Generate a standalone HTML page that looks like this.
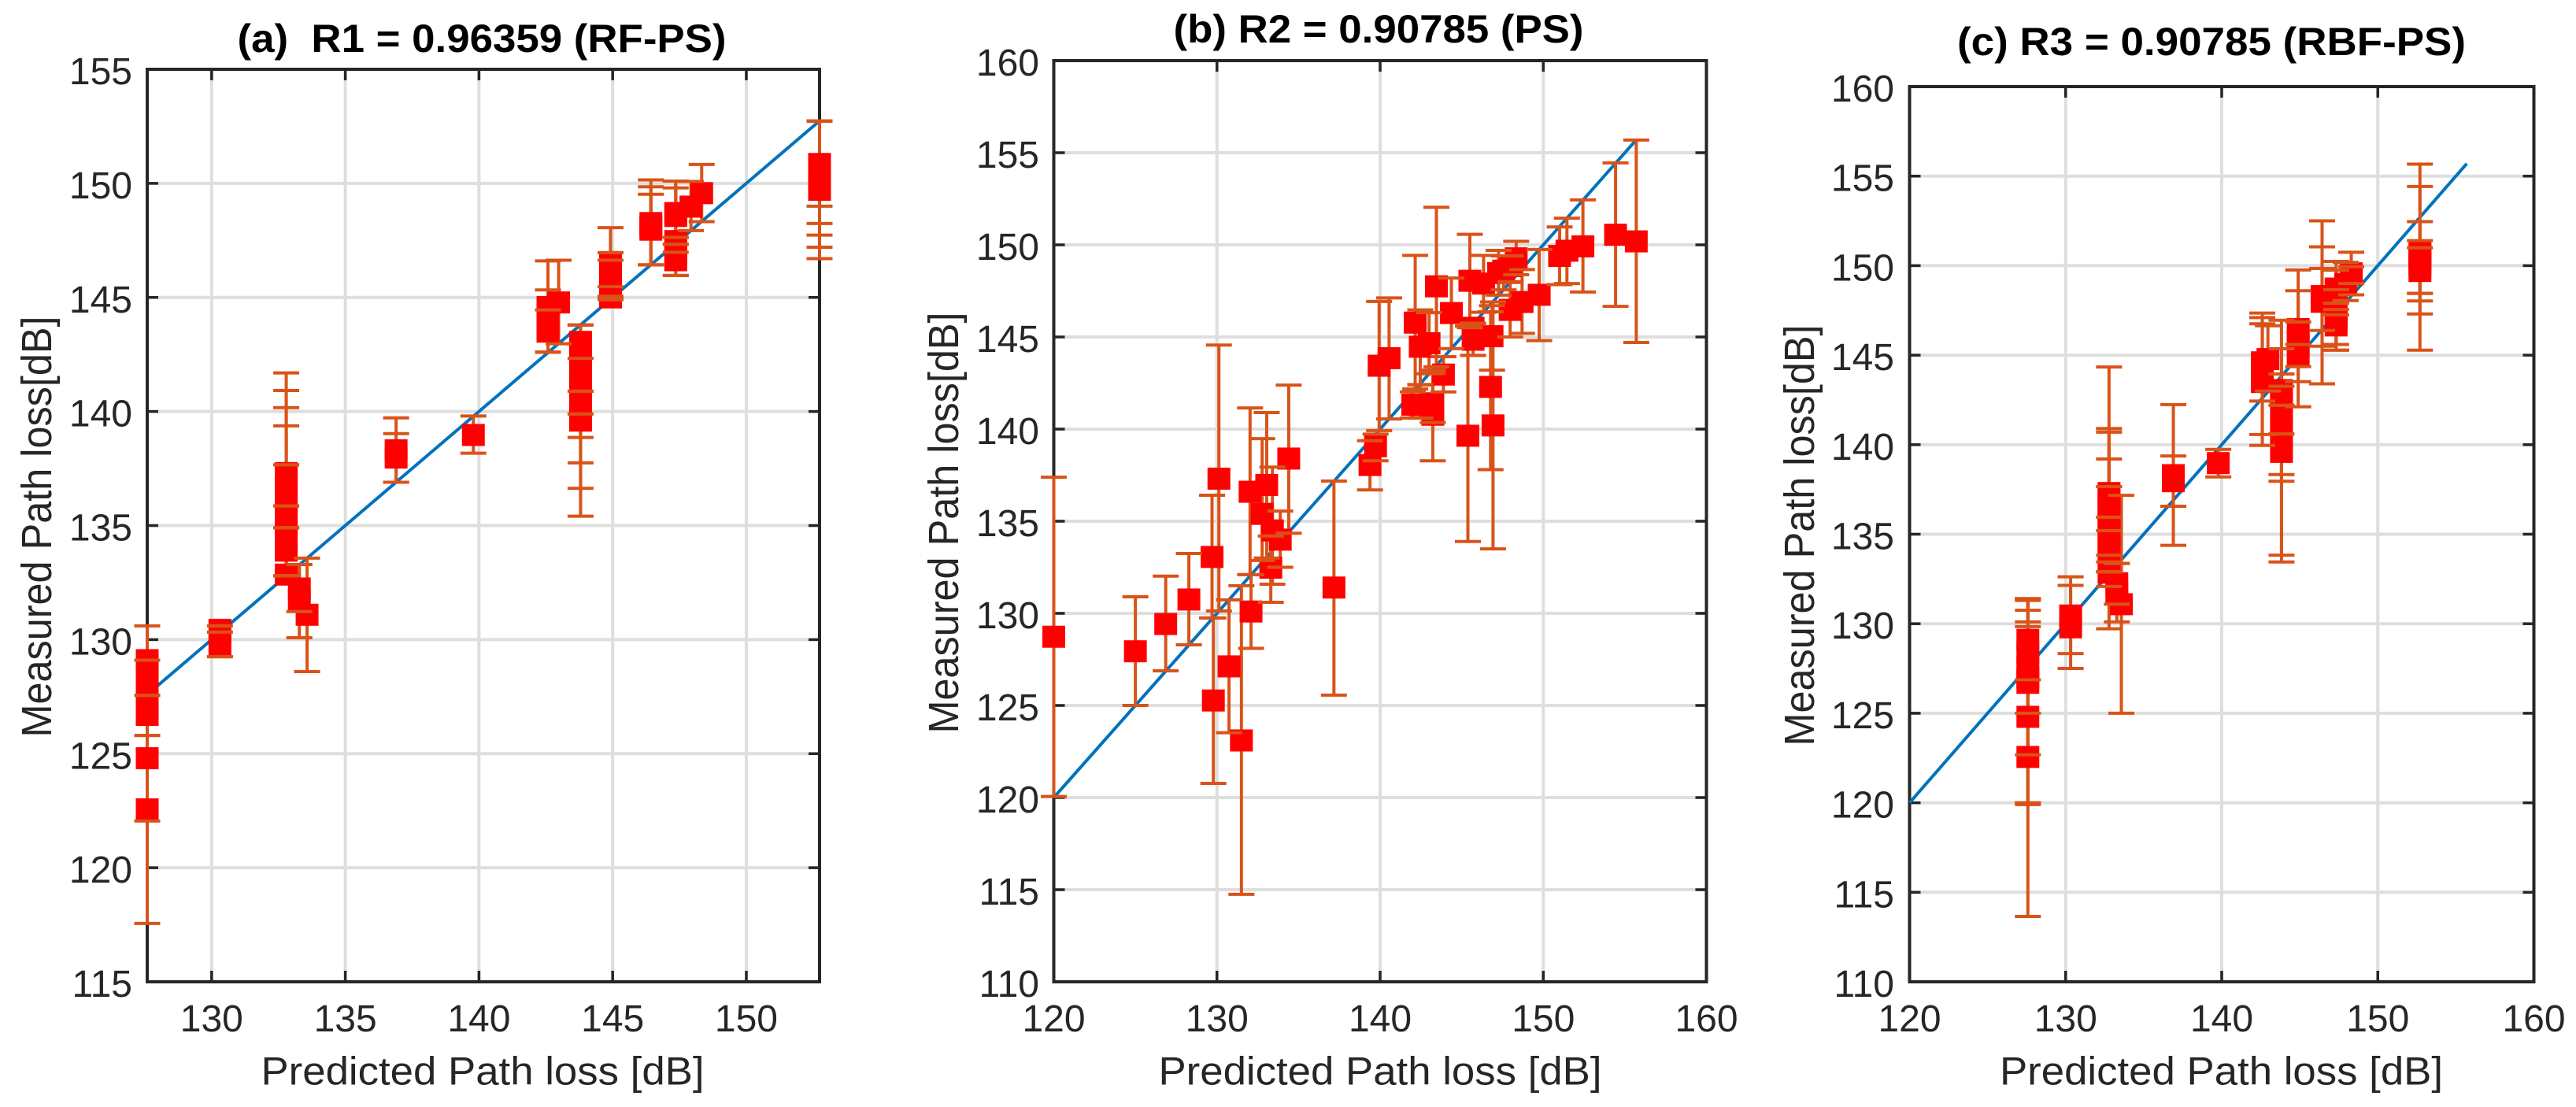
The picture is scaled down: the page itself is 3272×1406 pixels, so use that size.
<!DOCTYPE html>
<html lang="en">
<head>
<meta charset="utf-8">
<title>Predicted vs measured path loss</title>
<style>
html,body{margin:0;padding:0;background:#fff;}
svg{display:block;font-family:"Liberation Sans",Arial,sans-serif;}
</style>
</head>
<body>
<svg id="figure" xmlns="http://www.w3.org/2000/svg" width="3272" height="1406" viewBox="0 0 3272 1406"></svg>
<script>
/* ---------- Panel (a) RF-PS ---------- */
const aPredicted = [127.59,127.59,127.59,127.59,127.59,127.59,130.31,130.31,132.79,132.79,132.79,132.79,132.79,132.79,132.79,132.79,132.79,133.28,133.28,133.57,136.9,136.9,139.79,142.58,142.58,142.58,142.98,143.8,143.8,143.8,143.8,143.8,143.8,144.92,144.92,144.92,144.92,146.43,146.43,146.43,147.36,147.36,147.36,147.36,147.36,147.93,148.33,152.74,152.74,152.74,152.74,152.74];
const aMeasured  = [122.56,124.8,126.7,127.6,128.4,129.1,129.75,130.43,132.85,133.9,134.4,135,135.6,136.1,136.7,137,137.3,131.75,132.24,131.09,137.98,138.3,138.97,143.5,144,144.58,144.78,139.6,140.3,141,141.7,142.4,143.05,145,145.5,146,146.55,147.97,148.1,148.26,146.63,147,147.47,148.57,148.7,148.98,149.57,149.72,150,150.3,150.6,150.85];
const aLower     = [117.56,122.05,125.8,125.8,127.56,127.56,129.25,129.25,132.8,132.8,132.8,132.8,134.9,135.86,134.9,132.8,132.8,130.08,131.23,128.6,136.9,136.9,138.17,142.6,142.6,142.6,142.97,135.41,136.63,137.75,138.86,139.89,140.89,144.9,144.9,145,145.05,146.43,146.43,146.43,145.96,145.96,146.98,147.33,147.63,147.93,148.32,146.7,147.2,147.73,148.24,149];
const aUpper     = [127.56,127.56,127.56,129.1,130.6,130.6,130.33,130.6,134.9,134.9,135.86,137.66,137.66,139.37,140.17,140.92,141.69,133.29,133.29,133.57,139.03,139.72,139.8,145.33,144.45,146.6,146.63,139.89,140.89,142.33,143.79,143.79,143.79,145.47,146.63,146.96,148.06,149.52,149.85,150.15,147.33,147.63,149.8,150.1,150.1,150.08,150.83,152.73,152.73,152.73,152.73,152.73];
const aXTicks = [130,135,140,145,150];
const aYTicks = [115,120,125,130,135,140,145,150,155];
const aDiagonal = [127.59,152.74];

/* ---------- Panel (b) PS ---------- */
const bPredicted = [120,125,126.86,128.28,129.78,129.7,130.12,130.74,131.5,132.09,132.03,132.77,133.05,133.3,133.4,133.88,134.4,137.17,139.38,139.72,139.94,140.55,142,142.46,143.23,143.23,142.15,142.46,143,143.45,143.88,144.37,145.38,145.5,145.7,145.7,146.34,146.86,146.77,146.92,147.26,147.57,147.97,148,148.34,148.7,149.75,151,151.45,152.43,154.43,155.7];
const bMeasured  = [128.73,127.94,129.42,130.75,125.27,133.06,137.31,127.12,123.1,130.1,136.6,135.4,136.97,132.48,134.5,134,138.4,131.4,138.05,139.07,143.44,143.85,141.32,141.3,140.78,141.4,145.78,144.47,144.66,147.75,142.96,146.3,139.64,148.05,144.85,145.5,147.9,145.04,142.29,140.2,148.47,148.6,146.47,148.85,149.27,146.9,147.29,149.4,149.68,149.92,150.55,150.19];
const bLower     = [120.06,125,126.88,128.29,120.77,129.75,130.13,123.52,114.75,128.1,132.1,132.87,133,130.6,131.58,132.5,134.35,125.56,136.7,138.28,139.92,140.55,140.6,140.6,138.28,140.36,142.18,142.42,143,143.38,142.02,144.37,133.9,145.5,144,144,146.34,143.2,137.8,133.5,147.27,147.56,145,148,148.38,145.2,144.8,147.84,147.9,147.44,146.66,144.7];
const bUpper     = [137.39,130.9,132.02,133.25,129.75,136.41,144.56,130.73,131.5,132.1,141.15,139.48,140.9,134.2,137.94,135.55,142.39,137.18,139.37,139.73,146.93,147.12,142.02,142.4,143.03,143.2,149.43,146.47,146.32,152.04,143.93,148.2,145.6,150.57,145.75,145.7,149.43,146.7,146.37,146.9,149.7,149.4,147.96,149.4,150.19,148.66,149.75,150.97,151.45,152.44,154.45,155.69];
const bXTicks = [120,130,140,150,160];
const bYTicks = [110,115,120,125,130,135,140,145,150,155,160];
const bDiagonal = [120,155.7];

/* ---------- Panel (c) RBF-PS ---------- */
const cPredicted = [127.58,127.58,127.58,127.58,127.58,127.58,127.58,130.32,130.32,132.78,132.78,132.78,132.78,132.78,132.78,132.78,132.78,132.78,133.28,133.28,133.57,136.9,136.9,139.78,142.6,142.6,142.6,142.96,143.83,143.83,143.83,143.83,143.83,143.83,144.9,144.9,144.9,144.9,146.43,146.43,146.43,147.33,147.33,147.33,147.33,147.33,147.94,148.3,148.3,152.7,152.7,152.7,152.7,152.7];
const cMeasured  = [122.56,124.8,126.7,127,127.6,128.4,129.1,129.8,130.46,132.85,133.9,134.4,135,135.6,136.1,136.7,137,137.3,131.7,132.26,131.09,137.96,138.3,138.97,143.5,144,144.6,144.78,139.6,140.3,141,141.7,142.4,143.05,145.05,145.5,146,146.46,147.98,148.1,148.3,146.66,147,147.5,148.6,148.72,148.98,149.57,149.5,149.7,150,150.3,150.6,150.8];
const cLower     = [113.65,120,122.68,119.9,120,125,126.87,127.5,128.33,129.72,132.08,132.9,132.9,133.45,133.83,132.9,135.2,135.95,130.1,131.09,125,134.38,136.56,138.2,139.96,140.57,142.44,143,133.45,133.83,137.96,138.33,140.6,142.2,144.36,143.52,142.12,145.6,143.4,146.38,145.5,145.28,145.6,145.28,147.25,148.66,148.05,148.37,149,145.28,147.3,148.03,148.45,148.45];
const cUpper     = [131.4,130.1,130.75,129.84,131.4,131.4,131.3,132.14,132.62,135.2,135.95,137.66,137.66,139.2,140.7,140.9,140.9,144.34,133.37,133.37,137.17,139.37,142.24,139.74,147.1,146.75,147.35,146.64,140.6,142.2,143.26,143.95,145.36,146.95,145.6,146.85,148.6,149.76,151.05,149.84,152.5,147.25,147.55,147.9,149.75,150.24,150.18,150.75,149.94,155.67,154.42,152.46,151.4,151];
const cXTicks = [120,130,140,150,160];
const cYTicks = [110,115,120,125,130,135,140,145,150,155,160];
const cDiagonal = [120,155.7];

const NS = 'http://www.w3.org/2000/svg';
const svg = document.getElementById('figure');
const INK = '#262626', GRID = '#dedede', ORANGE = '#D95319', BLUE = '#0072BD', RED = '#FF0000';

function line(parent, x1, y1, x2, y2, stroke, w, name) {
  const el = document.createElementNS(NS, 'line');
  el.setAttribute('x1', x1); el.setAttribute('y1', y1);
  el.setAttribute('x2', x2); el.setAttribute('y2', y2);
  el.setAttribute('stroke', stroke); el.setAttribute('stroke-width', w);
  
  
  parent.appendChild(el);
  return el;
}
function group(parent, name) {
  const el = document.createElementNS(NS, 'g');
  
  
  parent.appendChild(el);
  return el;
}
function tickText(parent, str, x, y, anchor, name) {
  const el = document.createElementNS(NS, 'text');
  el.setAttribute('x', x);
  el.setAttribute('y', y);
  el.setAttribute('text-anchor', anchor);
  el.setAttribute('font-size', 48);
  el.setAttribute('fill', INK);
  
  
  el.textContent = str;
  parent.appendChild(el);
}
function fitText(parent, str, x, y, len, size, weight, fill, name, rotate) {
  const el = document.createElementNS(NS, 'text');
  if (rotate) {
    el.setAttribute('transform', 'translate(' + x + ',' + y + ') rotate(-90) scale(1,1.07)');
  } else {
    el.setAttribute('x', x); el.setAttribute('y', y);
  }
  el.setAttribute('text-anchor', 'middle');
  el.setAttribute('font-size', size);
  el.setAttribute('font-weight', weight);
  el.setAttribute('fill', fill);
  el.setAttribute('textLength', len);
  el.setAttribute('lengthAdjust', 'spacingAndGlyphs');
  
  
  el.textContent = str;
  parent.appendChild(el);
}

function drawPanel(p) {
  const g = group(svg, 'panel-' + p.id);
  const sx = v => p.left + (v - p.xMin) / (p.xMax - p.xMin) * (p.right - p.left);
  const sy = v => p.bottom - (v - p.yMin) / (p.yMax - p.yMin) * (p.bottom - p.top);

  /* gridlines */
  const gridG = group(g, 'grid-' + p.id);
  p.xTicks.forEach(v => {
    if (sx(v) > p.left + 1 && sx(v) < p.right - 1) line(gridG, sx(v), p.top, sx(v), p.bottom, GRID, 4, 'x-gridline');
  });
  p.yTicks.forEach(v => {
    if (sy(v) > p.top + 1 && sy(v) < p.bottom - 1) line(gridG, p.left, sy(v), p.right, sy(v), GRID, 4, 'y-gridline');
  });

  /* ticks and tick labels */
  const axG = group(g, 'axes-' + p.id);
  p.xTicks.forEach(v => {
    const x = sx(v);
    if (x > p.left + 1 && x < p.right - 1) {
      line(axG, x, p.bottom, x, p.bottom - 14, INK, 3.5, 'x-tick');
      line(axG, x, p.top, x, p.top + 14, INK, 3.5, 'x-tick-top');
    }
    tickText(axG, String(v), x, 1310, 'middle', 'x-tick-label');
  });
  p.yTicks.forEach(v => {
    const y = sy(v);
    if (y > p.top + 1 && y < p.bottom - 1) {
      line(axG, p.left, y, p.left + 14, y, INK, 3.5, 'y-tick');
      line(axG, p.right, y, p.right - 14, y, INK, 3.5, 'y-tick-right');
    }
    tickText(axG, String(v), p.labelRight, y + 19, 'end', 'y-tick-label');
  });

  /* box */
  const box = document.createElementNS(NS, 'rect');
  box.setAttribute('x', p.left); box.setAttribute('y', p.top);
  box.setAttribute('width', p.right - p.left); box.setAttribute('height', p.bottom - p.top);
  box.setAttribute('fill', 'none'); box.setAttribute('stroke', INK); box.setAttribute('stroke-width', 4);
  
  
  axG.appendChild(box);

  /* diagonal reference line */
  line(g, sx(p.diagonal[0]), sy(p.diagonal[0]), sx(p.diagonal[1]), sy(p.diagonal[1]), BLUE, 4, 'fit-line');

  /* error bars and markers */
  const stems = group(g, 'error-stems-' + p.id);
  const marks = group(g, 'markers-' + p.id);
  const caps = group(g, 'error-caps-' + p.id);
  p.predicted.forEach((xv, i) => {
    const x = sx(xv), y = sy(p.measured[i]), lo = sy(p.lower[i]), hi = sy(p.upper[i]);
    line(stems, x, lo, x, hi, ORANGE, 4, 'error-stem');
    const m = document.createElementNS(NS, 'rect');
    m.setAttribute('x', x - 14.5); m.setAttribute('y', y - 14);
    m.setAttribute('width', 29); m.setAttribute('height', 28);
    m.setAttribute('fill', RED);
    
    
    marks.appendChild(m);
    line(caps, x - 16.5, lo, x + 16.5, lo, ORANGE, 4, 'error-cap-lower');
    line(caps, x - 16.5, hi, x + 16.5, hi, ORANGE, 4, 'error-cap-upper');
  });

  /* titles */
  fitText(g, p.title, p.titleX, p.titleY, p.titleLen, 50, 'bold', '#000', 'chart-title');
  fitText(g, 'Predicted Path loss [dB]', p.xLabelX, 1377.5, 563, 50, 'normal', INK, 'x-axis-title');
  fitText(g, 'Measured Path loss[dB]', p.yLabelX, p.yLabelY, 535, 50, 'normal', INK, 'y-axis-title', true);
}

drawPanel({id:'a', left:187, right:1041, top:88, bottom:1247, xMin:127.59, xMax:152.74, yMin:115, yMax:155,
  xTicks:aXTicks, yTicks:aYTicks, diagonal:aDiagonal, predicted:aPredicted, measured:aMeasured, lower:aLower, upper:aUpper,
  labelRight:168, title:'(a)\u00a0\u00a0R1 = 0.96359 (RF-PS)', titleX:612, titleY:66, titleLen:621, xLabelX:613, yLabelX:65, yLabelY:669});
drawPanel({id:'b', left:1338.5, right:2167.5, top:77, bottom:1247, xMin:120, xMax:160, yMin:110, yMax:160,
  xTicks:bXTicks, yTicks:bYTicks, diagonal:bDiagonal, predicted:bPredicted, measured:bMeasured, lower:bLower, upper:bUpper,
  labelRight:1320, title:'(b) R2 = 0.90785 (PS)', titleX:1751, titleY:54, titleLen:521, xLabelX:1753, yLabelX:1217, yLabelY:664});
drawPanel({id:'c', left:2425.5, right:3218.5, top:110, bottom:1247, xMin:120, xMax:160, yMin:110, yMax:160,
  xTicks:cXTicks, yTicks:cYTicks, diagonal:cDiagonal, predicted:cPredicted, measured:cMeasured, lower:cLower, upper:cUpper,
  labelRight:2406, title:'(c) R3 = 0.90785 (RBF-PS)', titleX:2809, titleY:70, titleLen:646, xLabelX:2821.5, yLabelX:2304, yLabelY:680});
</script>
</body>
</html>
